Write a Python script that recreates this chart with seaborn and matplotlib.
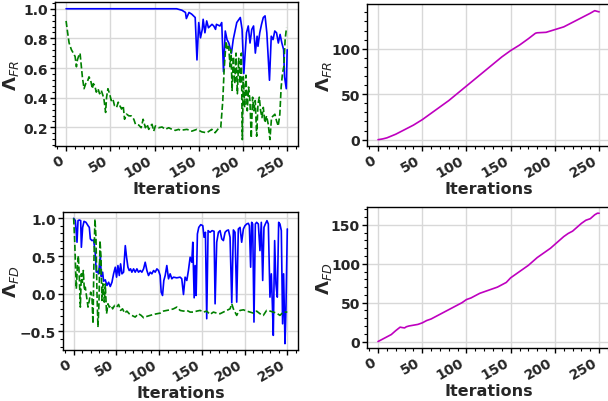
import matplotlib
matplotlib.use("Agg")
import matplotlib.pyplot as plt
import seaborn as sns
from matplotlib.ticker import AutoMinorLocator

# top-left: Lambda_FR, blue (solid) and green (dashed)
fr_blue_x = [0, 125, 131, 135, 136, 139, 142, 146, 148, 150, 152, 154, 155, 157, 159, 161, 165, 167, 169, 170,
             174, 176, 178, 180, 182, 184, 187, 189, 193, 197, 199, 201, 204, 206, 208, 210, 212, 214, 216, 217,
             219, 221, 223, 225, 227, 230, 232, 234, 236, 238, 240, 242, 244, 246, 247, 249, 250]
fr_blue_y = [1.0, 1.0, 0.99, 0.975, 0.934, 0.975, 0.964, 0.941, 0.655, 0.907, 0.804, 0.861, 0.929, 0.838,
             0.918, 0.872, 0.895, 0.884, 0.861, 0.895, 0.884, 0.907, 0.575, 0.85, 0.792, 0.769, 0.701, 0.792,
             0.907, 0.941, 0.861, 0.564, 0.838, 0.884, 0.769, 0.861, 0.884, 0.701, 0.815, 0.747, 0.838, 0.895,
             0.941, 0.952, 0.838, 0.518, 0.815, 0.792, 0.85, 0.838, 0.769, 0.827, 0.769, 0.724, 0.541, 0.461,
             0.724]
fr_green_x = [0, 1.5, 3.4, 6, 8.3, 10.2, 11.7, 12.8, 14.7, 15.8, 17.3, 18.4, 20.3, 22.2, 24, 25.9, 27.8, 29.7,
              30.8, 32.3, 34.2, 36.1, 37.9, 39.8, 41.7, 42.8, 44.7, 45.8, 47.3, 49.2, 51.1, 52.9, 54.8, 57.1,
              59, 60.8, 62.7, 64.6, 66.1, 68.3, 71, 73.6, 76.6, 78.5, 82.2, 84.9, 87.1, 89.7, 91.6, 93.5, 95.4,
              97.2, 99.1, 101, 104.8, 108.5, 112.3, 116, 119.8, 123.5, 127.3, 129.1, 136.6, 142.2, 147.9, 153.5,
              159.1, 164.8, 168.5, 172.3, 174.9, 177.2, 178.7, 180.9, 182.4, 183.9, 185.4, 186.5, 187.7, 189.2,
              190.7, 192.2, 193.7, 195.2, 196.7, 198.2, 199.3, 200.4, 201.9, 203.4, 204.9, 206.4, 207.9, 209.4,
              210.9, 212.4, 213.9, 215.5, 217, 218.5, 220, 221.5, 223, 224.8, 226.7, 228.6, 230.5, 232.3, 234.2,
              236.1, 238, 239.9, 241.7, 243.2, 244.7, 246.2, 247.7, 249.2]
fr_green_y = [0.918, 0.85, 0.77, 0.724, 0.70, 0.678, 0.609, 0.655, 0.69, 0.70, 0.609, 0.541, 0.461, 0.495,
              0.506, 0.541, 0.518, 0.461, 0.495, 0.484, 0.438, 0.461, 0.427, 0.45, 0.415, 0.392, 0.301, 0.404,
              0.461, 0.427, 0.381, 0.392, 0.346, 0.335, 0.37, 0.346, 0.324, 0.346, 0.255, 0.29, 0.278, 0.278,
              0.255, 0.221, 0.216, 0.198, 0.255, 0.198, 0.221, 0.187, 0.21, 0.221, 0.175, 0.21, 0.198, 0.203,
              0.187, 0.198, 0.187, 0.18, 0.187, 0.18, 0.187, 0.175, 0.187, 0.17, 0.164, 0.187, 0.164, 0.193,
              0.2, 0.381, 0.587, 0.781, 0.724, 0.747, 0.609, 0.724, 0.45, 0.678, 0.495, 0.701, 0.427, 0.666,
              0.495, 0.701, 0.118, 0.541, 0.335, 0.552, 0.312, 0.472, 0.381, 0.129, 0.404, 0.312, 0.381, 0.141,
              0.358, 0.404, 0.312, 0.266, 0.335, 0.232, 0.278, 0.221, 0.118, 0.266, 0.278, 0.289, 0.244, 0.21,
              0.289, 0.472, 0.564, 0.609, 0.792, 0.872]

# bottom-left: Lambda_FD, blue (solid) and green (dashed)
fd_blue_x = [0, 2, 3.9, 5.1, 6.6, 8.2, 9, 10.5, 12.1, 14.4, 16.8, 18.3, 19.5, 21.4, 23.4, 25.3, 26.5, 28.4, 29.2,
             31.2, 32.3, 33.9, 35, 37, 38.9, 40.9, 42.8, 44.8, 46.7, 48.7, 50.2, 51.8, 53.4, 54.9, 56.5, 58.4,
             60.4, 61.9, 63.5, 65, 66.6, 68.1, 70.1, 72, 74, 75.9, 77.9, 79.8, 81.8, 83.7, 85.7, 87.6, 89.6,
             91.5, 93.5, 95.4, 97.4, 99.3, 101.2, 102.4, 104, 105.5, 107.1, 109, 111, 112.9, 114.9, 116.8, 120.7,
             124.6, 126.5, 128.5, 130.4, 132.4, 134.3, 136.3, 138.2, 139.4, 141, 142.1, 143.3, 144.8, 146.4,
             148.7, 151.1, 152.6, 154.2, 155.7, 157.3, 159.6, 162, 164.3, 165.5, 167.4, 169.4, 171.3, 173.3,
             175.2, 177.2, 179.1, 181.1, 183, 185, 186.9, 188.8, 190.8, 192.7, 194.7, 196.6, 198.6, 200.5, 202.5,
             204.4, 205.6, 207.1, 208.3, 209.5, 211, 212.6, 214.1, 216.1, 218, 219.6, 221.2, 222.7, 224.3, 226.2,
             227.8, 229.7, 231.3, 232.5, 233.6, 235.2, 236.7, 238.3, 239.9, 241.4, 243, 244.5, 245.7, 247.3,
             248.4, 249.2, 250]
fd_blue_y = [1.0, 0.97, 0.683, 0.97, 0.978, 0.97, 0.616, 0.88, 0.96, 0.947, 0.903, 0.88, 0.727, 0.705, 0.713,
             0.528, 0.286, 0.299, 0.264, 0.506, 0.228, 0.286, 0.167, 0.184, 0.109, 0.153, 0.096, 0.153, 0.264,
             0.352, 0.22, 0.374, 0.242, 0.396, 0.264, 0.286, 0.638, 0.484, 0.352, 0.308, 0.33, 0.286, 0.33, 0.286,
             0.33, 0.286, 0.308, 0.286, 0.33, 0.418, 0.308, 0.242, 0.286, 0.264, 0.308, 0.286, 0.33, 0.308, 0.242,
             0.021, -0.023, 0.176, 0.242, 0.374, 0.198, 0.264, 0.198, 0.22, 0.211, 0.22, 0.198, -0.01, 0.22,
             0.176, 0.308, 0.484, 0.418, 0.683, -0.054, 0.374, -0.023, 0.793, 0.88, 0.916, 0.903, 0.749, 0.815,
             -0.331, 0.837, 0.815, 0.837, 0.828, -0.133, 0.683, 0.815, 0.837, 0.727, 0.705, 0.815, 0.837, 0.846,
             0.749, -0.12, 0.846, 0.815, -0.111, 0.859, 0.88, 0.683, 0.859, 0.903, 0.925, 0.934, 0.903, 0.352,
             0.947, 0.925, -0.375, 0.925, 0.947, 0.925, 0.572, 0.947, 0.176, 0.88, 0.925, 0.969, 0.925, -0.045,
             0.264, -0.133, -0.552, 0.705, 0.131, -0.045, 0.947, 0.925, 0.837, -0.398, 0.264, -0.662, -0.221,
             0.352, 0.859]
fd_green_x = [0, 1.2, 2.3, 3.1, 4.3, 5.5, 6.6, 7.8, 9, 10.1, 11.3, 12.5, 13.6, 15.2, 16.8, 18.3, 19.9, 21.4, 22.6,
              23.8, 24.9, 26.1, 27.3, 28.4, 29.6, 30.8, 32, 33.1, 34.3, 35.8, 37, 38.5, 40.1, 41.7, 44, 45.6,
              47.9, 50.2, 52.6, 54.9, 57.2, 59.6, 62.3, 65, 68.1, 72, 75.9, 79, 81.8, 85.7, 89.6, 93.5, 97.4,
              101.2, 105.1, 109, 112.9, 116.8, 120.7, 124.6, 128.5, 132.4, 136.3, 140.2, 144.1, 148, 151.8, 155.7,
              159.6, 163.5, 167.4, 171.3, 175.2, 179.1, 183, 185, 186.9, 188.8, 190.8, 192.7, 194.7, 198.6, 202.5,
              206.4, 210.3, 214.1, 218, 221.9, 225.8, 229.7, 233.6, 237.5, 241.4, 245.3, 250]
fd_green_y = [1.0, 0.705, 0.308, 0.065, 0.352, 0.506, 0.22, -0.177, 0.264, 0.153, 0.308, 0.043, 0.087, -0.045,
              -0.177, -0.089, 0.021, -0.045, -0.398, 0.484, 0.991, 0.749, 0.0, -0.442, -0.133, 0.705, 0.484,
              -0.089, 0.131, -0.111, 0.131, -0.265, -0.133, -0.177, -0.155, -0.2, -0.155, -0.177, -0.142, -0.221,
              -0.2, -0.257, -0.23, -0.265, -0.287, -0.309, -0.265, -0.287, -0.318, -0.3, -0.287, -0.274, -0.265,
              -0.257, -0.23, -0.221, -0.213, -0.2, -0.177, -0.221, -0.23, -0.221, -0.243, -0.243, -0.23, -0.221,
              -0.243, -0.23, -0.274, -0.243, -0.257, -0.265, -0.243, -0.221, -0.2, -0.133, -0.2, -0.243, -0.287,
              -0.243, -0.221, -0.213, -0.23, -0.243, -0.257, -0.23, -0.265, -0.287, -0.221, -0.23, -0.243, -0.257,
              -0.287, -0.243, -0.243]

# right column: cumulative values (magenta)
cum_fr_x = [0, 5, 10, 20, 30, 40, 50, 60, 70, 80, 90, 100, 110, 120, 130, 140, 150, 160, 170, 178, 180, 190,
            200, 210, 220, 230, 240, 245, 248, 250]
cum_fr_y = [0, 0.8, 2, 6, 11, 16, 22, 29, 36, 43, 51, 59, 67, 75, 83, 91, 98, 104, 111, 117, 117.5, 118, 121,
            124, 129, 134, 139, 141.8, 141, 140.5]
cum_fd_x = [0, 5, 10, 15, 20, 25, 27, 30, 32, 35, 40, 45, 50, 55, 60, 65, 70, 75, 80, 85, 90, 95, 100, 105, 110,
            115, 120, 125, 130, 135, 140, 145, 150, 155, 160, 165, 170, 175, 180, 185, 190, 195, 200, 205, 210,
            215, 220, 225, 230, 235, 240, 245, 248, 250]
cum_fd_y = [0, 3, 6, 9, 14, 18.5, 18, 17.5, 19, 20, 21, 22, 24, 27, 29, 32, 35, 38, 41, 44, 47, 50, 54, 56, 59,
            62, 64, 66, 68, 70, 73, 76, 82, 86, 90, 94, 98, 103, 108, 112, 116, 120, 125, 130, 135, 139, 142,
            147, 152, 156, 158, 163, 165, 165]

sns.set_style("whitegrid")
plt.rcParams['font.family'] = ['DejaVu Sans']

fig = plt.figure(figsize=(6.08, 4.02), dpi=100)
ax1 = fig.add_axes([0.0905, 0.634, 0.40, 0.358])
ax2 = fig.add_axes([0.6036, 0.634, 0.40, 0.353])
ax3 = fig.add_axes([0.1036, 0.127, 0.3865, 0.343])
ax4 = fig.add_axes([0.6036, 0.132, 0.40, 0.351])

sns.lineplot(x=fr_blue_x, y=fr_blue_y, ax=ax1, color='blue', lw=1.2, estimator=None)
sns.lineplot(x=fr_green_x, y=fr_green_y, ax=ax1, color='green', lw=1.2, linestyle='--', estimator=None)
sns.lineplot(x=cum_fr_x, y=cum_fr_y, ax=ax2, color='m', lw=1.2, estimator=None)
sns.lineplot(x=fd_blue_x, y=fd_blue_y, ax=ax3, color='blue', lw=1.2, estimator=None)
sns.lineplot(x=fd_green_x, y=fd_green_y, ax=ax3, color='green', lw=1.2, linestyle='--', estimator=None)
sns.lineplot(x=cum_fd_x, y=cum_fd_y, ax=ax4, color='m', lw=1.2, estimator=None)

ax2.set_yticks([0, 50, 100])
ax4.set_yticks([0, 50, 100, 150])
ax3.set_yticks([-0.5, 0.0, 0.5, 1.0])

# label x position (axes coords) chosen so the labels sit where the reference has them
panels = [(ax1, r'$\mathbf{\Lambda}_{FR}$', -0.14), (ax2, r'$\mathbf{\Lambda}_{FR}$', -0.135),
          (ax3, r'$\mathbf{\Lambda}_{FD}$', -0.178), (ax4, r'$\mathbf{\Lambda}_{FD}$', -0.135)]
for ax, lab, lx in panels:
    ax.set_xlim(-12.5, 262.5)
    ax.set_xticks([0, 50, 100, 150, 200, 250])
    ax.xaxis.set_minor_locator(AutoMinorLocator(5))
    ax.yaxis.set_minor_locator(AutoMinorLocator(5))
    ax.grid(True, which='major', color='#d8d8d8', lw=1)
    ax.set_xlabel('Iterations', fontsize=11.5, fontweight='bold', labelpad=1)
    ax.set_ylabel(lab, fontsize=13)
    ax.yaxis.set_label_coords(lx, 0.5)
    for s in ax.spines.values():
        s.set_color('black')
        s.set_linewidth(1)
    ax.tick_params(which='major', direction='out', length=3.5, width=1, pad=1.5, color='black',
                   bottom=True, left=True)
    ax.tick_params(which='minor', direction='out', length=2, width=0.8, color='black', bottom=True, left=True)
    for t in ax.get_xticklabels():
        t.set_rotation(30)
        t.set_ha('right')
        t.set_fontweight('bold')
        t.set_fontsize(10)
    for t in ax.get_yticklabels():
        t.set_fontweight('bold')
        t.set_fontsize(10)

fig.savefig('out.png', dpi=100)
